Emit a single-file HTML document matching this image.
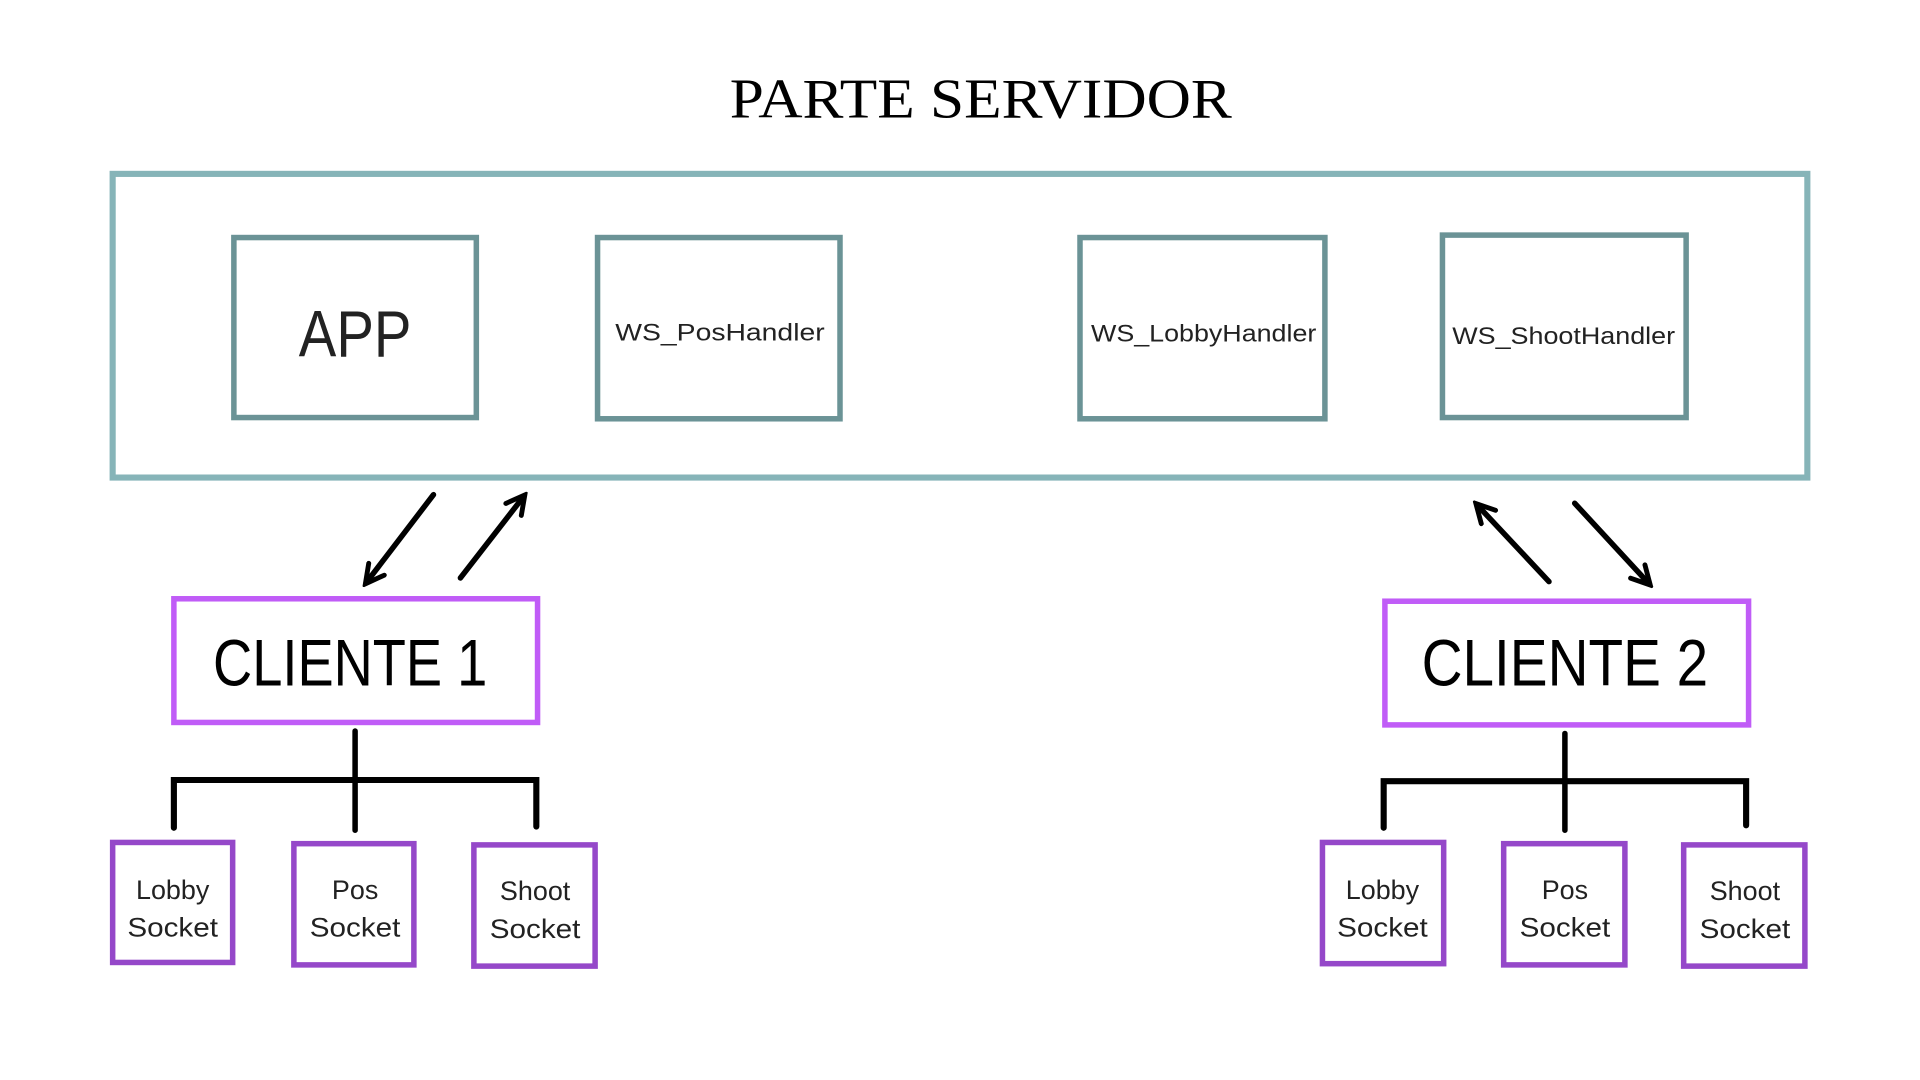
<!DOCTYPE html>
<html><head><meta charset="utf-8"><style>html,body{margin:0;padding:0;background:#fff;width:1920px;height:1080px;overflow:hidden}</style></head>
<body>
<svg width="1920" height="1080" viewBox="0 0 1568 882" xmlns="http://www.w3.org/2000/svg">
<defs>
<marker id="a2" viewBox="0 0 20 20" refX="16" refY="10" markerWidth="20" markerHeight="20" orient="auto" markerUnits="userSpaceOnUse"><path d="M2,2 L17,10 L2,18" fill="none" stroke="#000" stroke-width="4" stroke-linecap="round"/></marker></defs>
<text x="801" y="96" text-anchor="middle" font-family="Liberation Serif, serif" font-size="46" textLength="410" lengthAdjust="spacingAndGlyphs">PARTE SERVIDOR</text>
<rect x="92" y="142" width="1384" height="248" fill="none" stroke="#86b4b8" stroke-width="5"/>
<g fill="none" stroke="#6b9396" stroke-width="4.5">
<rect x="191" y="194" width="198" height="147"/>
<rect x="488" y="194" width="198" height="148"/>
<rect x="882" y="194" width="200" height="148"/>
<rect x="1178" y="192" width="199" height="149"/>
</g>
<g font-family="Liberation Sans, sans-serif" text-anchor="middle" fill="#222">
<text x="290" y="291" font-size="54" textLength="92" lengthAdjust="spacingAndGlyphs">APP</text>
<text x="588" y="278" font-size="20" textLength="171" lengthAdjust="spacingAndGlyphs">WS_PosHandler</text>
<text x="983" y="279" font-size="20" textLength="184" lengthAdjust="spacingAndGlyphs">WS_LobbyHandler</text>
<text x="1277" y="281" font-size="20" textLength="182" lengthAdjust="spacingAndGlyphs">WS_ShootHandler</text>
</g>
<g stroke="#000" stroke-width="4.5" stroke-linecap="round" marker-end="url(#a2)">
<line x1="354" y1="404" x2="299" y2="476"/>
<line x1="376" y1="472" x2="428" y2="405"/>
<line x1="1265" y1="475" x2="1206" y2="412"/>
<line x1="1286" y1="411" x2="1347" y2="477"/>
</g>
<g fill="none" stroke="#c05cf7" stroke-width="4.5">
<rect x="142" y="489" width="297" height="101"/>
<rect x="1131" y="491" width="297" height="101"/>
</g>
<g font-family="Liberation Sans, sans-serif" text-anchor="middle" fill="#000" font-size="54">
<text x="286" y="560" textLength="224" lengthAdjust="spacingAndGlyphs">CLIENTE 1</text>
<text x="1278" y="560" textLength="234" lengthAdjust="spacingAndGlyphs">CLIENTE 2</text>
</g>
<g stroke="#000" stroke-width="4.5" fill="none" stroke-linecap="round">
<line x1="290" y1="597" x2="290" y2="678"/>
<polyline points="142,676 142,637 438,637 438,675" stroke-width="5"/>
<line x1="1278" y1="599" x2="1278" y2="678"/>
<polyline points="1130,676 1130,638 1426,638 1426,674" stroke-width="5"/>
</g>
<g fill="none" stroke="#9548c9" stroke-width="4.5">
<rect x="92" y="688" width="98" height="98"/>
<rect x="240" y="689" width="98" height="99"/>
<rect x="387" y="690" width="99" height="99"/>
<rect x="1080" y="688" width="99" height="99"/>
<rect x="1228" y="689" width="99" height="99"/>
<rect x="1375" y="690" width="99" height="99"/>
</g>
<g font-family="Liberation Sans, sans-serif" text-anchor="middle" fill="#222" font-size="22">
<text x="141" y="734">Lobby</text><text x="141" y="765" textLength="74" lengthAdjust="spacingAndGlyphs">Socket</text>
<text x="290" y="734">Pos</text><text x="290" y="765" textLength="74" lengthAdjust="spacingAndGlyphs">Socket</text>
<text x="437" y="735">Shoot</text><text x="437" y="766" textLength="74" lengthAdjust="spacingAndGlyphs">Socket</text>
<text x="1129" y="734">Lobby</text><text x="1129" y="765" textLength="74" lengthAdjust="spacingAndGlyphs">Socket</text>
<text x="1278" y="734">Pos</text><text x="1278" y="765" textLength="74" lengthAdjust="spacingAndGlyphs">Socket</text>
<text x="1425" y="735">Shoot</text><text x="1425" y="766" textLength="74" lengthAdjust="spacingAndGlyphs">Socket</text>
</g>
</svg>
</body></html>
